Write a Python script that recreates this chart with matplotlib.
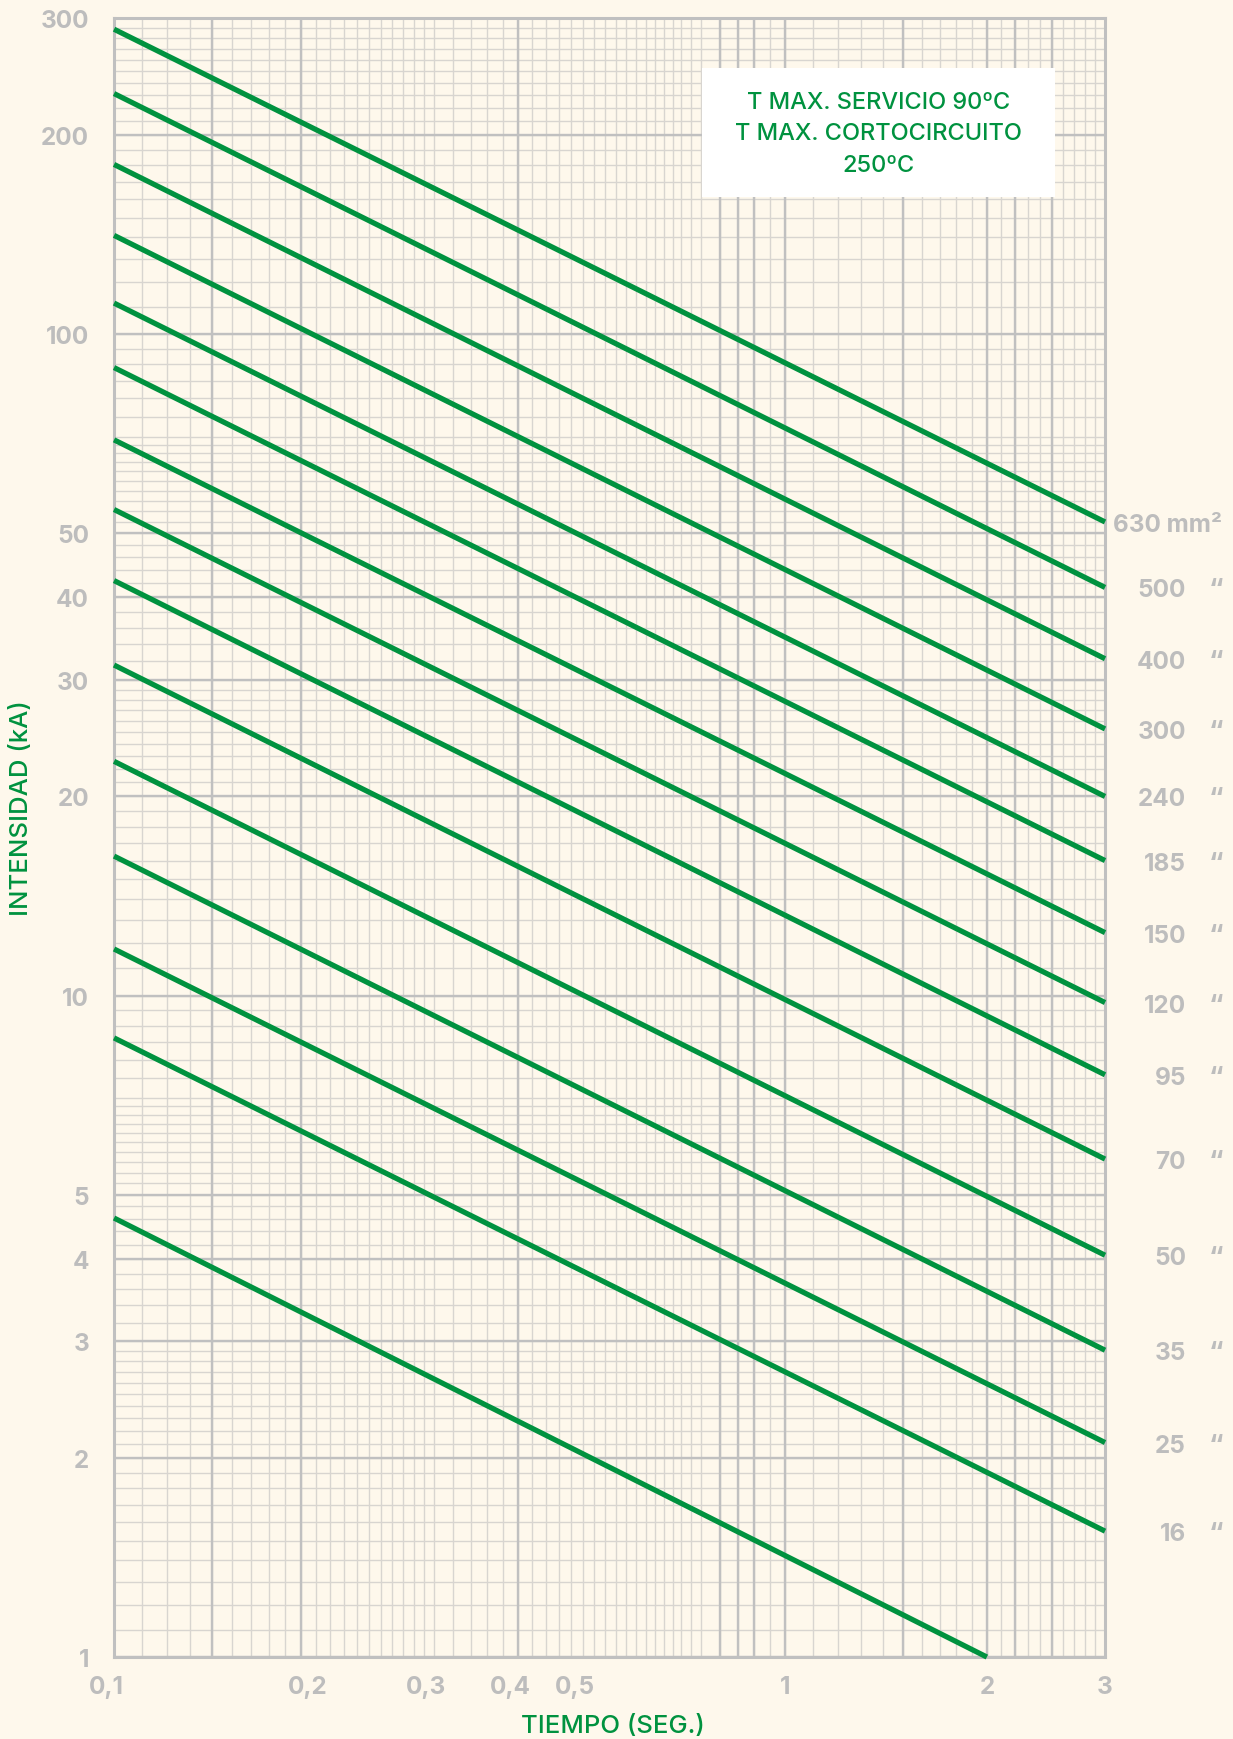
import numpy as np
import matplotlib.pyplot as plt
from matplotlib.patches import Rectangle
from matplotlib.transforms import ScaledTranslation

# cross section of each line (mm2), top to bottom
sections = ['630', '500', '400', '300', '240', '185', '150', '120',
            '95', '70', '50', '35', '25', '16', '10']
# start of each line: time (s) and current (kA)
t_start = [0.1, 0.1, 0.1, 0.1, 0.1, 0.1, 0.1, 0.1,
           0.1, 0.1, 0.1, 0.1, 0.1, 0.1, 0.1]
i_start = [289, 231, 180.5, 141, 111.4, 89, 69.2, 54.3,
           42.4, 31.6, 22.6, 16.25, 11.76, 8.63, 4.61]
# end of each line
t_end = [3, 3, 3, 3, 3, 3, 3, 3, 3, 3, 3, 3, 3, 3, 2]
i_end = [52, 41.4, 32.3, 25.3, 20.0, 16.0, 12.45, 9.76,
         7.59, 5.66, 4.05, 2.91, 2.11, 1.55, 1.0]

x_ticks = [0.1, 0.2, 0.3, 0.4, 0.5, 1, 2, 3]
x_ticklabels = ['0,1', '0,2', '0,3', '0,4', '0,5', '1', '2', '3']
y_ticks = [1, 2, 3, 4, 5, 10, 20, 30, 40, 50, 100, 200, 300]
y_ticklabels = ['1', '2', '3', '4', '5', '10', '20', '30', '40', '50',
                '100', '200', '300']

box_text = 'T MAX. SERVICIO 90ºC\nT MAX. CORTOCIRCUITO\n250ºC'

# colours
bg = '#FEF8EC'
green = '#00923F'
grey_txt = '#BDBDBD'
grid_minor = '#D8D5D0'
grid_major = '#C0C0C0'

FONT = ['Inter', 'DejaVu Sans']
NUMSIZE = 17.5
TXTSIZE = 17
TITLESIZE = 18.5

fig = plt.figure(figsize=(12.33, 17.40), dpi=100, facecolor=bg)
ax = fig.add_axes([0.0925, 0.0471, 0.8037, 0.9417])
ax.set_facecolor(bg)
ax.set_xscale('log')
ax.set_yscale('log')
ax.set_xlim(0.1, 3)
ax.set_ylim(1, 300)

# log paper grid (the printed paper is a bit irregular)
xminor = np.concatenate([np.arange(0.11, 0.30, 0.01),
                         np.arange(0.30, 0.70, 0.02),
                         [0.70, 0.725, 0.75, 0.8, 0.85, 0.9, 0.95],
                         np.arange(1.0, 3.0, 0.1)])
xmajor = [0.14, 0.19, 0.4, 0.8, 0.85, 0.9, 1.0, 1.5, 2.0, 2.2, 2.5]
for x in np.round(xminor, 3):
    ax.axvline(x, color=grid_minor, lw=1.0, zorder=1)
for x in xmajor:
    ax.axvline(x, color=grid_major, lw=1.7, zorder=1.5)

yminor = []
for d in [1, 10, 100]:
    yminor += list(np.round(np.arange(1.0, 3.0, 0.1) * d, 3))
    yminor += list(np.round(np.arange(3.0, 7.0, 0.2) * d, 3))
    yminor += list(np.round(np.arange(7.0, 10.0, 0.5) * d, 3))
for y in yminor:
    if y < 300:
        ax.axhline(y, color=grid_minor, lw=1.0, zorder=1)
for y in y_ticks:
    ax.axhline(y, color=grid_major, lw=1.7, zorder=1.5)

for s in ax.spines.values():
    s.set_color(grid_major)
    s.set_linewidth(2.2)
    s.set_zorder(2)

# the lines
for k in range(len(sections)):
    ax.plot([t_start[k], t_end[k]], [i_start[k], i_end[k]], color=green,
            lw=3.8, solid_capstyle='butt', zorder=4, clip_on=False)

# ticks
ax.set_xticks(x_ticks)
ax.set_xticklabels(x_ticklabels)
ax.set_yticks(y_ticks)
ax.set_yticklabels(y_ticklabels)
ax.minorticks_off()
ax.tick_params(axis='both', length=0, labelcolor=grey_txt, labelsize=NUMSIZE)
ax.tick_params(axis='x', pad=13)
ax.tick_params(axis='y', pad=18)
for lab in ax.get_xticklabels() + ax.get_yticklabels():
    lab.set_fontfamily(FONT)
    lab.set_fontweight('bold')
for lab in ax.get_xticklabels():
    if ',' in lab.get_text():
        lab.set_transform(lab.get_transform() +
                          ScaledTranslation(-8 / 100, 0, fig.dpi_scale_trans))

# section labels at the right end
ytr = ax.get_yaxis_transform()
for k in range(len(sections) - 1):
    if k == 0:
        ax.text(1.008, i_end[k], sections[k] + ' mm²', transform=ytr,
                ha='left', va='center_baseline', color=grey_txt,
                fontsize=NUMSIZE, fontfamily=FONT, fontweight='bold')
    else:
        ax.text(1.0817, i_end[k], sections[k], transform=ytr,
                ha='right', va='center_baseline', color=grey_txt,
                fontsize=NUMSIZE, fontfamily=FONT, fontweight='bold')
        ax.text(1.112, i_end[k], '\u201c', transform=ytr,
                ha='center', va='center_baseline', color=grey_txt,
                fontsize=NUMSIZE + 2, fontfamily=FONT, fontweight='bold')

# temperature box
ax.add_patch(Rectangle((0.5933, 0.891), 0.3562, 0.0788, transform=ax.transAxes,
                       facecolor='white', edgecolor='none', zorder=5))
ax.text(0.7715, 0.930, box_text, transform=ax.transAxes, ha='center',
        va='center', color=green, fontsize=TXTSIZE, fontfamily=FONT,
        fontweight='medium', linespacing=1.55, zorder=6)

# axis titles
fig.text(22 / 1233, 1 - 808 / 1740, 'INTENSIDAD (kA)', rotation=90,
         ha='center', va='center', color=green, fontsize=TITLESIZE,
         fontfamily=FONT, fontweight='medium')
fig.text(613 / 1233, 1 - 1727 / 1740, 'TIEMPO (SEG.)', ha='center',
         va='center', color=green, fontsize=TITLESIZE, fontfamily=FONT,
         fontweight='medium')

fig.savefig('out.png', dpi=100, facecolor=bg)
